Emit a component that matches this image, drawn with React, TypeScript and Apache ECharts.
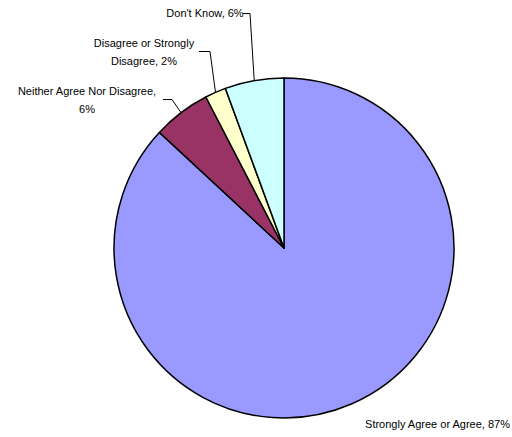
import React, { useEffect, useRef } from "react";
import * as echarts from "echarts";

const categories = [
  "Strongly Agree or Agree",
  "Neither Agree Nor Disagree",
  "Disagree or Strongly Disagree",
  "Don't Know",
];
const values = [86.9, 5.5, 2.0, 5.6];
const labelTexts = [
  "Strongly Agree or Agree",
  "Neither Agree Nor Disagree,\n",
  "Disagree or Strongly\nDisagree,",
  "Don't Know,",
];
const colors = ["#9999FF", "#993366", "#FFFFCC", "#CCFFFF"];

// label placement (layout, not data)
const labelSpots = [
  { x: 510, y: 424, align: "right", line: null },
  { x: 87, y: 100, align: "center", line: [[172, 99.5], [163, 99.5]] },
  { x: 144, y: 52, align: "center", line: [[210, 51.5], [199, 51.5]] },
  { x: 205, y: 13, align: "center", line: [[250, 13.5], [243, 13.5]] },
];

export default function App() {
  const ref = useRef<HTMLDivElement>(null);
  useEffect(() => {
    if (!ref.current) return;
    const chart = echarts.init(ref.current, null, { renderer: "svg" });
    const cx = 284;
    const cy = 248;
    const r = 170;
    const total = values.reduce((a, b) => a + b, 0);
    chart.setOption({
      animation: false,
      backgroundColor: "#ffffff",
      series: [
        {
          type: "pie",
          center: [cx, cy],
          radius: [0, r],
          startAngle: 90,
          clockwise: true,
          itemStyle: { borderColor: "#000000", borderWidth: 1.5 },
          label: {
            show: true,
            position: "outside",
            overflow: "none",
            fontFamily: "Liberation Sans, Arial, sans-serif",
            fontSize: 11,
            lineHeight: 18,
            color: "#000000",
            formatter: (p: any) => {
              const t = labelTexts[p.dataIndex];
              const pct = Math.round(p.percent) + "%";
              if (p.dataIndex === 1) return t + pct;
              return t + (t.endsWith(",") ? " " : ", ") + pct;
            },
          },
          labelLine: {
            show: true,
            length: 10,
            length2: 10,
            lineStyle: { color: "#000000", width: 1 },
          },
          labelLayout: (params: any) => {
            const s = labelSpots[params.dataIndex];
            const out: any = {
              x: s.x,
              y: s.y,
              align: s.align,
              verticalAlign: "middle",
              hideOverlap: false,
              moveOverlap: false,
            };
            if (s.line) {
              let p0 = params.labelLinePoints && params.labelLinePoints[0];
              if (!p0) {
                let cum = 0;
                for (let i = 0; i < params.dataIndex; i++) cum += values[i];
                const mid = cum + values[params.dataIndex] / 2;
                const ang = Math.PI / 2 - (mid / total) * Math.PI * 2;
                p0 = [cx + r * Math.cos(ang), cy - r * Math.sin(ang)];
              }
              out.labelLinePoints = [p0, s.line[0], s.line[1]];
            }
            return out;
          },
          data: categories.map((name, i) => ({
            name,
            value: values[i],
            itemStyle: { color: colors[i] },
            labelLine: { show: i !== 0 },
          })),
        },
      ],
    });
    return () => chart.dispose();
  }, []);
  return (
    <div
      ref={ref}
      style={{ position: "absolute", left: 0, top: 0, width: 512, height: 437 }}
    />
  );
}
